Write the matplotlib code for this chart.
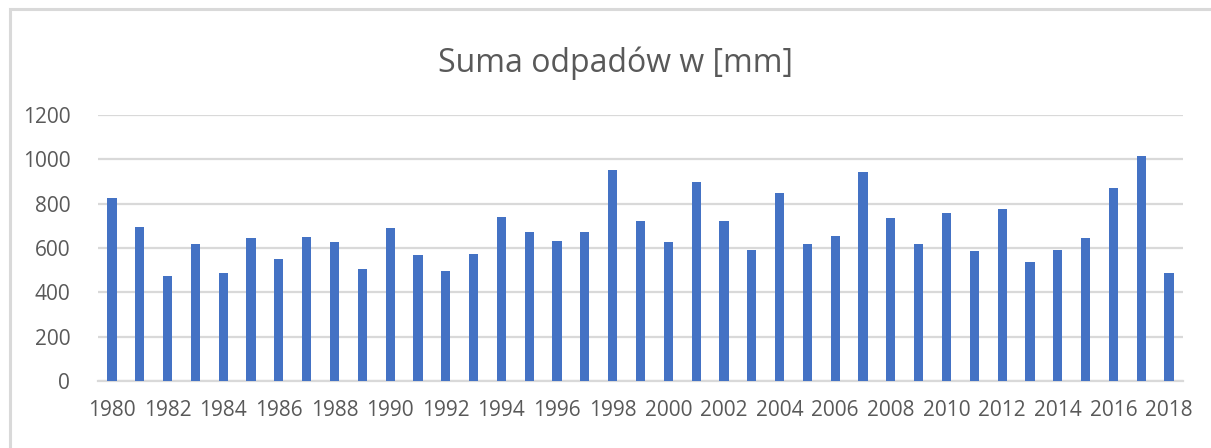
import numpy as np
import matplotlib.pyplot as plt
from matplotlib.patches import Rectangle

# Roczne sumy opadów [mm]
years = list(range(1980, 2019))
rain = [825, 695, 475, 618, 486, 643, 549, 649, 625, 507,
        692, 567, 494, 573, 742, 674, 631, 674, 954, 724,
        625, 898, 724, 593, 849, 617, 655, 942, 736, 617,
        760, 587, 778, 536, 593, 647, 871, 1016, 486]
yticks = [0, 200, 400, 600, 800, 1000, 1200]

plt.rcParams['font.family'] = ['Open Sans', 'DejaVu Sans']
txt = '#595959'
grid = '#d9d9d9'

fig = plt.figure(figsize=(12.11, 4.48), dpi=100)
# ramka wykresu (ucięta z prawej i z dołu)
fig.patches.append(Rectangle((10 / 1211, -0.1), 1.2, 1 - 9 / 448 + 0.1,
                             transform=fig.transFigure, fill=False,
                             edgecolor=grid, linewidth=2.2))

ax = fig.add_axes([98 / 1211, 1 - 381 / 448, (1183 - 98) / 1211, (381 - 115) / 448])
x = np.arange(len(years))
ax.bar(x, rain, width=0.33, color='#4472C4', zorder=3)

ax.set_xlim(-0.5, len(years) - 0.5)
ax.set_ylim(0, 1200)
ax.set_yticks(yticks)
ax.set_yticklabels([str(v) for v in yticks], fontsize=15, color=txt)
ax.set_xticks(x[::2])
ax.set_xticklabels([str(y) for y in years[::2]], fontsize=15, color=txt)
ax.tick_params(axis='both', length=0)
ax.tick_params(axis='y', pad=20)
ax.tick_params(axis='x', pad=14)
ax.grid(axis='y', color=grid, linewidth=1.6, zorder=0)
for side in ['top', 'right', 'left']:
    ax.spines[side].set_visible(False)
ax.spines['bottom'].set_color(grid)
ax.spines['bottom'].set_linewidth(1.6)

fig.text(616 / 1211, 1 - 63 / 448, 'Suma odpadów w [mm]', ha='center', va='center',
         fontsize=23, color=txt)

fig.savefig('out.png', dpi=100)
